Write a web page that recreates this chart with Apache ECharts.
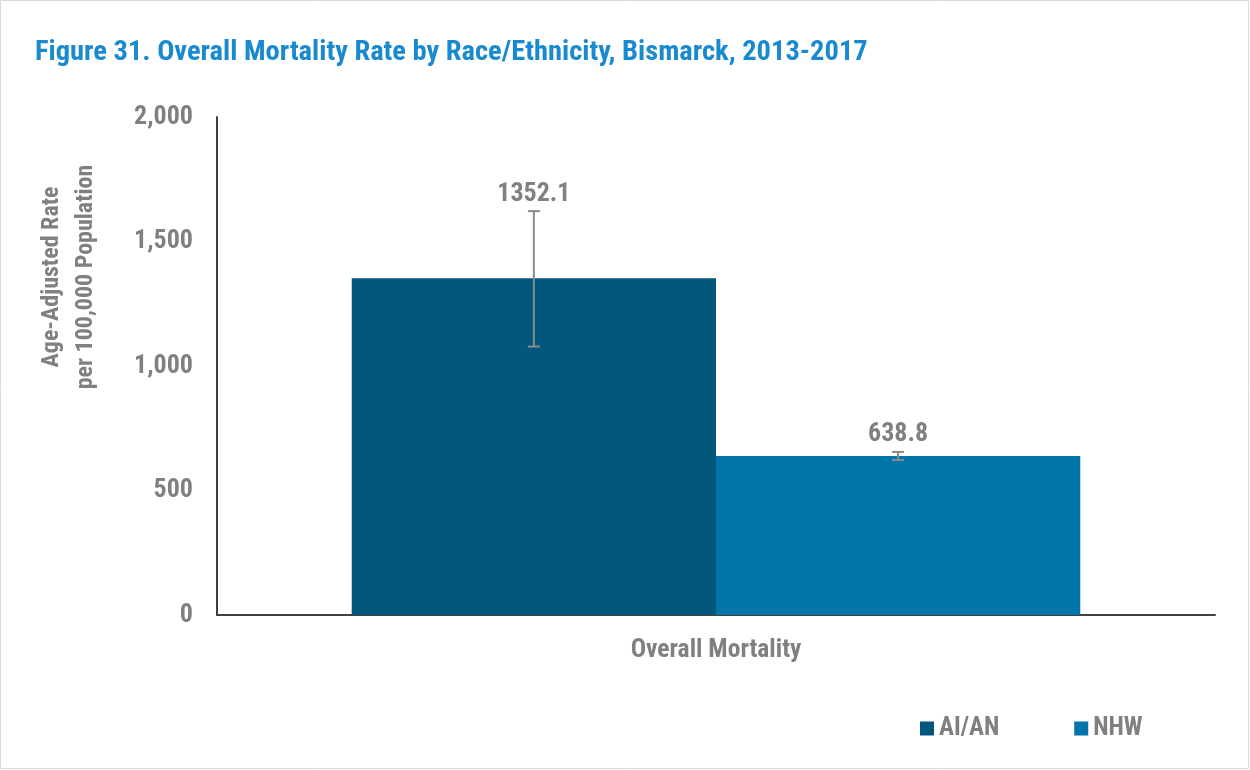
<!DOCTYPE html>
<html>
<head>
<meta charset="utf-8">
<script src="https://cdn.jsdelivr.net/npm/echarts@6/dist/echarts.min.js"></script>
<style>
html,body{margin:0;padding:0;background:#fff;}
#chart{width:1250px;height:770px;}
</style>
</head>
<body>
<div id="chart"></div>
<script>
const categories = ['Overall Mortality'];
const seriesNames = ['AI/AN', 'NHW'];
const aianValues = [1352.1];
const nhwValues = [638.8];
const aianLower = [1078];
const aianUpper = [1622];
const nhwLower = [622];
const nhwUpper = [655];
const yTicks = [0, 500, 1000, 1500, 2000];
const yAxisTitle = 'Age-Adjusted Rate\nper 100,000 Population';

const FONT = '"Liberation Sans Narrow", "Arial Narrow", "Roboto Condensed", "Liberation Sans", sans-serif';
const GRAY = '#808080';
const COLORS = ['#03577c', '#0174aa'];
const GAP = 0.27;

function errSeries(idx, lower, upper, values) {
  return {
    type: 'custom',
    name: 'err' + idx,
    silent: true,
    z: 5,
    data: categories.map((c, i) => [i, lower[i], upper[i], values[i]]),
    renderItem: function (params, api) {
      const band = api.size([1, 0])[0];
      const bw = band * (1 - GAP) / 2;
      const center = api.coord([api.value(0), 0])[0];
      const x = center + (idx === 0 ? -bw / 2 : bw / 2);
      const lo = api.coord([api.value(0), api.value(1)])[1];
      const hi = api.coord([api.value(0), api.value(2)])[1];
      const style = { stroke: '#8a8a8a', lineWidth: 2 };
      return {
        type: 'group',
        children: [
          { type: 'line', shape: { x1: x, y1: lo, x2: x, y2: hi }, style: style },
          { type: 'line', shape: { x1: x - 6, y1: lo, x2: x + 6, y2: lo }, style: style },
          { type: 'line', shape: { x1: x - 6, y1: hi, x2: x + 6, y2: hi }, style: style },
          { type: 'text', x: x, y: hi - 4, style: {
              text: api.value(3).toFixed(1), fill: GRAY, font: 'bold 26px ' + FONT,
              align: 'center', verticalAlign: 'bottom' } }
        ]
      };
    }
  };
}

const chart = echarts.init(document.getElementById('chart'));
chart.setOption({
  backgroundColor: '#fff',
  animation: false,
  title: {
    text: 'Figure 31. Overall Mortality Rate by Race/Ethnicity, Bismarck, 2013-2017',
    left: 30, top: 33,
    textStyle: { color: '#1a8ad0', fontFamily: FONT, fontWeight: 'bold', fontSize: 28.5 }
  },
  legend: {
    data: seriesNames,
    left: 915, top: 711,
    itemWidth: 14, itemHeight: 14, itemGap: 75,
    icon: 'rect',
    textStyle: { color: GRAY, fontFamily: FONT, fontWeight: 'bold', fontSize: 25 }
  },
  grid: { left: 217, right: 35, top: 117, bottom: 155 },
  xAxis: {
    type: 'category',
    data: categories,
    axisLine: { lineStyle: { color: '#404040', width: 2 } },
    axisTick: { show: false },
    axisLabel: { color: GRAY, fontFamily: FONT, fontWeight: 'bold', fontSize: 25.5, margin: 23 }
  },
  yAxis: {
    type: 'value',
    min: 0, max: 2000, interval: 500,
    axisLine: { show: true, lineStyle: { color: '#404040', width: 2 } },
    axisTick: { show: false },
    splitLine: { show: false },
    axisLabel: {
      color: GRAY, fontFamily: FONT, fontWeight: 'bold', fontSize: 26, margin: 24,
      formatter: v => yTicks.includes(v) ? v.toLocaleString('en-US') : ''
    }
  },
  graphic: [{
    type: 'rect', shape: { x: 0.5, y: 0.5, width: 1248, height: 768 },
    style: { fill: null, stroke: '#d9d9d9', lineWidth: 1 }, silent: true, z: -1
  }, {
    type: 'text', x: 69, y: 277, rotation: Math.PI / 2, silent: true,
    style: { text: yAxisTitle, fill: GRAY, font: 'bold 24px ' + FONT, lineHeight: 34,
      align: 'center', verticalAlign: 'middle' }
  }],
  series: [
    { type: 'bar', name: seriesNames[0], data: aianValues, itemStyle: { color: COLORS[0] },
      barGap: '0%', barCategoryGap: (GAP * 100) + '%' },
    { type: 'bar', name: seriesNames[1], data: nhwValues, itemStyle: { color: COLORS[1] } },
    errSeries(0, aianLower, aianUpper, aianValues),
    errSeries(1, nhwLower, nhwUpper, nhwValues)
  ]
});
</script>
</body>
</html>
